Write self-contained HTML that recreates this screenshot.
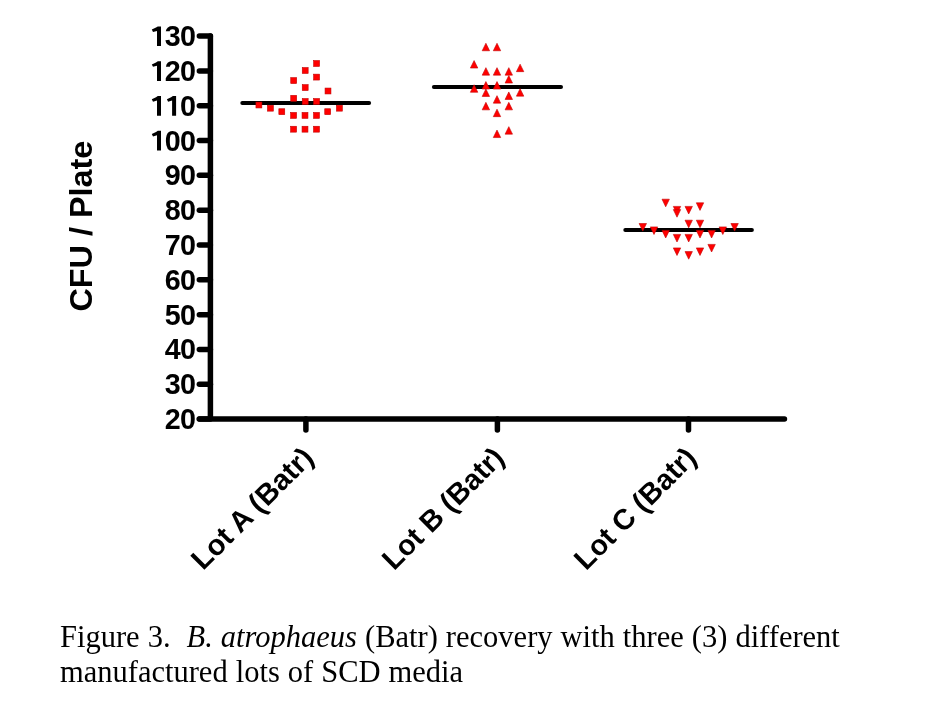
<!DOCTYPE html>
<html><head><meta charset="utf-8"><style>
html,body{margin:0;padding:0;background:#fff;width:936px;height:704px;overflow:hidden;}
svg{position:absolute;left:0;top:0;will-change:transform;}
.cap{will-change:transform;}
.s{font-family:"Liberation Sans",sans-serif;font-weight:bold;}
.cap{position:absolute;left:59.5px;top:620px;font-family:"Liberation Serif",serif;font-size:30.5px;line-height:34.5px;color:#000;white-space:nowrap;word-spacing:0.4px;}
</style></head><body>
<svg width="936" height="704" viewBox="0 0 936 704"><g stroke="#000" stroke-width="5.5" stroke-linecap="round" fill="none"><path d="M210.4 36.10200000000003 V419.0 M199.35 419.0 H784.45" /><path d="M199.35 419.10 H210.4" /><path d="M199.35 384.28 H210.4" /><path d="M199.35 349.46 H210.4" /><path d="M199.35 314.65 H210.4" /><path d="M199.35 279.83 H210.4" /><path d="M199.35 245.01 H210.4" /><path d="M199.35 210.19 H210.4" /><path d="M199.35 175.37 H210.4" /><path d="M199.35 140.56 H210.4" /><path d="M199.35 105.74 H210.4" /><path d="M199.35 70.92 H210.4" /><path d="M199.35 36.10 H210.4" /><path d="M305.9 419.0 V430.05" /><path d="M497.4 419.0 V430.05" /><path d="M688.5 419.0 V430.05" /></g><g stroke="#000" stroke-width="4.0" stroke-linecap="round"><path d="M242.3 103.0 H369.1" /><path d="M433.9 87.0 H561.0" /><path d="M625.3 229.9 H751.9" /></g><g fill="#ff0000" stroke="#c40000" stroke-width="0.6" stroke-linejoin="miter"><rect x="313.65" y="60.55" width="5.9" height="5.9"/><rect x="302.25" y="67.55" width="5.9" height="5.9"/><rect x="313.65" y="74.15" width="5.9" height="5.9"/><rect x="290.75" y="77.65" width="5.9" height="5.9"/><rect x="302.25" y="84.65" width="5.9" height="5.9"/><rect x="325.05" y="88.05" width="5.9" height="5.9"/><rect x="290.75" y="95.35" width="5.9" height="5.9"/><rect x="302.25" y="98.55" width="5.9" height="5.9"/><rect x="313.65" y="98.55" width="5.9" height="5.9"/><rect x="255.95" y="102.05" width="5.9" height="5.9"/><rect x="267.45" y="105.25" width="5.9" height="5.9"/><rect x="336.45" y="105.25" width="5.9" height="5.9"/><rect x="278.85" y="108.75" width="5.9" height="5.9"/><rect x="324.75" y="108.75" width="5.9" height="5.9"/><rect x="290.65" y="112.45" width="5.9" height="5.9"/><rect x="302.05" y="112.45" width="5.9" height="5.9"/><rect x="313.55" y="112.45" width="5.9" height="5.9"/><rect x="290.65" y="126.25" width="5.9" height="5.9"/><rect x="302.05" y="126.25" width="5.9" height="5.9"/><rect x="313.55" y="126.25" width="5.9" height="5.9"/><path d="M485.90 43.25 L489.60 50.75 H482.20Z"/><path d="M497.00 43.25 L500.70 50.75 H493.30Z"/><path d="M474.10 60.55 L477.80 68.05 H470.40Z"/><path d="M520.10 64.15 L523.80 71.65 H516.40Z"/><path d="M485.90 67.65 L489.60 75.15 H482.20Z"/><path d="M497.00 67.65 L500.70 75.15 H493.30Z"/><path d="M508.80 67.65 L512.50 75.15 H505.10Z"/><path d="M508.80 75.55 L512.50 83.05 H505.10Z"/><path d="M485.90 81.55 L489.60 89.05 H482.20Z"/><path d="M497.00 81.55 L500.70 89.05 H493.30Z"/><path d="M474.10 84.75 L477.80 92.25 H470.40Z"/><path d="M485.90 88.95 L489.60 96.45 H482.20Z"/><path d="M520.10 88.65 L523.80 96.15 H516.40Z"/><path d="M508.80 91.95 L512.50 99.45 H505.10Z"/><path d="M497.00 95.65 L500.70 103.15 H493.30Z"/><path d="M485.90 102.35 L489.60 109.85 H482.20Z"/><path d="M508.80 102.35 L512.50 109.85 H505.10Z"/><path d="M497.00 109.15 L500.70 116.65 H493.30Z"/><path d="M508.80 126.65 L512.50 134.15 H505.10Z"/><path d="M497.00 130.05 L500.70 137.55 H493.30Z"/><path d="M662.00 199.20 H669.40 L665.70 206.80Z"/><path d="M673.30 206.40 H680.70 L677.00 214.00Z"/><path d="M673.30 209.60 H680.70 L677.00 217.20Z"/><path d="M685.00 206.40 H692.40 L688.70 214.00Z"/><path d="M696.30 202.80 H703.70 L700.00 210.40Z"/><path d="M685.00 220.20 H692.40 L688.70 227.80Z"/><path d="M696.30 220.20 H703.70 L700.00 227.80Z"/><path d="M639.10 223.50 H646.50 L642.80 231.10Z"/><path d="M650.30 226.90 H657.70 L654.00 234.50Z"/><path d="M662.00 230.40 H669.40 L665.70 238.00Z"/><path d="M673.30 234.40 H680.70 L677.00 242.00Z"/><path d="M685.00 234.40 H692.40 L688.70 242.00Z"/><path d="M696.30 230.40 H703.70 L700.00 238.00Z"/><path d="M707.90 230.40 H715.30 L711.60 238.00Z"/><path d="M719.10 226.90 H726.50 L722.80 234.50Z"/><path d="M730.90 223.50 H738.30 L734.60 231.10Z"/><path d="M673.30 247.90 H680.70 L677.00 255.50Z"/><path d="M685.00 251.60 H692.40 L688.70 259.20Z"/><path d="M696.30 247.90 H703.70 L700.00 255.50Z"/><path d="M707.90 244.40 H715.30 L711.60 252.00Z"/></g><g class="s" font-size="28.7" fill="#000"><text x="164.70 180.10" y="429.10">20</text><text x="164.70 180.10" y="394.28">30</text><text x="164.70 180.10" y="359.46">40</text><text x="164.70 180.10" y="324.65">50</text><text x="164.70 180.10" y="289.83">60</text><text x="164.70 180.10" y="255.01">70</text><text x="164.70 180.10" y="220.19">80</text><text x="164.70 180.10" y="185.37">90</text><text x="164.70 180.10" y="150.56">00</text><text x="180.10" y="115.74">0</text><text x="164.70 180.10" y="80.92">20</text><text x="164.70 180.10" y="46.10">30</text><path d="M161.00 130.86 L161.00 150.56 L157.00 150.56 L157.00 135.36 L153.00 136.46 L151.80 134.06 L156.00 132.06 L157.80 130.86Z"/><path d="M161.00 96.04 L161.00 115.74 L157.00 115.74 L157.00 100.54 L153.00 101.64 L151.80 99.24 L156.00 97.24 L157.80 96.04Z"/><path d="M176.10 96.04 L176.10 115.74 L172.10 115.74 L172.10 100.54 L168.10 101.64 L166.90 99.24 L171.10 97.24 L172.90 96.04Z"/><path d="M161.00 61.22 L161.00 80.92 L157.00 80.92 L157.00 65.72 L153.00 66.82 L151.80 64.42 L156.00 62.42 L157.80 61.22Z"/><path d="M161.00 26.40 L161.00 46.10 L157.00 46.10 L157.00 30.90 L153.00 32.00 L151.80 29.60 L156.00 27.60 L157.80 26.40Z"/></g><text transform="translate(92.3 311.6) rotate(-90)" class="s" font-size="31" fill="#000" textLength="171" lengthAdjust="spacingAndGlyphs">CFU / Plate</text><g class="s" font-size="29" fill="#000"><text transform="translate(203.1 571.3) rotate(-45)" textLength="158.3" lengthAdjust="spacingAndGlyphs">Lot A (Batr)</text><text transform="translate(393.9 571.3) rotate(-45)" textLength="158.3" lengthAdjust="spacingAndGlyphs">Lot B (Batr)</text><text transform="translate(586.0 571.3) rotate(-45)" textLength="158.3" lengthAdjust="spacingAndGlyphs">Lot C (Batr)</text></g></svg>
<div class="cap">Figure 3.&nbsp; <i>B. atrophaeus</i> (Batr) recovery with three (3) different<br>manufactured lots of SCD media</div>
</body></html>
